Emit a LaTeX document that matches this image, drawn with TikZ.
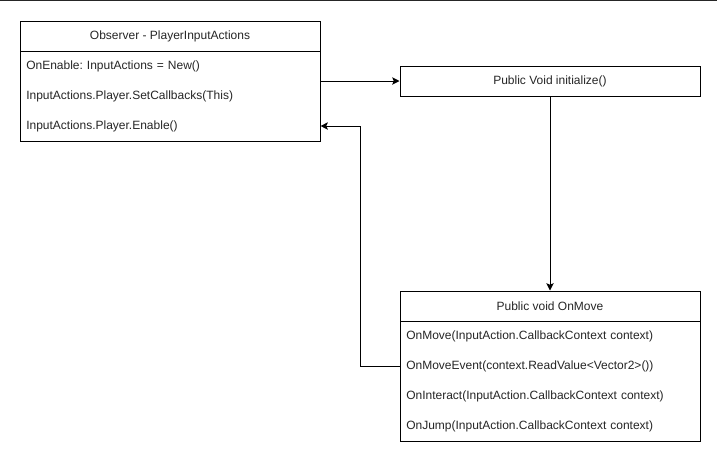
\documentclass[tikz,border=0pt]{standalone}
\usepackage{fontspec}
\setmainfont{Liberation Sans}
\frenchspacing
\usetikzlibrary{arrows.meta,positioning}
\tikzset{
  classframe/.style={
    draw=black,
    line width=0.75pt,
    fill=white,
    minimum width=225pt,
    inner sep=0pt,
    text=black!85,
    font=\fontsize{9pt}{11pt}\selectfont
  },
  classtitle/.style={
    draw=black,
    line width=0.75pt,
    anchor=north,
    minimum width=225pt,
    minimum height=22.5pt,
    inner sep=0pt,
    text=black!85,
    font=\fontsize{9pt}{11pt}\selectfont
  },
  member/.style={
    anchor=west,
    text width=216pt,
    inner xsep=4.5pt,
    inner ysep=0pt,
    minimum height=22.5pt,
    align=left,
    text=black!85,
    font=\fontsize{9pt}{11pt}\selectfont
  },
  flowarrow/.style={
    -{Stealth[length=5.5pt,width=5.5pt,inset=1.2pt]},
    line width=0.75pt
  },
  flowline/.style={
    line width=0.75pt
  },
  edgerule/.style={
    line width=0.9pt,
    draw=black!85
  }
}

\begin{document}
\begin{tikzpicture}[x=0.75pt,y=-0.75pt]

\useasboundingbox (0,0) rectangle (719,458);

% Upper edge of the capture.
\coordinate (edgeleft) at (0,0.6);
\coordinate (edgeright) at (717,0.6);
\draw[edgerule] (edgeleft) -- (edgeright);

% Observer class.
\node[classframe, minimum height=90pt] (observer) at (170,81) {};
\node[classtitle] (observertitle) at (observer.north) {Observer - PlayerInputActions};
\node[member] (obsenable) at (20,66) {OnEnable: InputActions = New()};
\node[member] (obscallbacks) at (20,96) {InputActions.Player.SetCallbacks(This)};
\node[member] (obsplayer) at (20,126) {InputActions.Player.Enable()};

% Initialize method.
\node[classframe, minimum height=22.5pt] (init) at (550,81) {Public Void initialize()};

% OnMove class.
\node[classframe, minimum height=112.5pt] (onmove) at (550,366) {};
\node[classtitle] (onmovetitle) at (onmove.north) {Public void OnMove};
\node[member] (movecall) at (400,336) {OnMove(InputAction.CallbackContext context)};
\node[member] (moveevent) at (400,366) {OnMoveEvent(context.ReadValue<Vector2>())};
\node[member] (moveinteract) at (400,396) {OnInteract(InputAction.CallbackContext context)};
\node[member] (movejump) at (400,426) {OnJump(InputAction.CallbackContext context)};

% Connectors.
\draw[flowarrow] (observer.east) -- (init.west);
\draw[flowarrow] (init.south) -- (onmove.north);
\draw[flowarrow] (moveevent.west) -- ++(-40,0) |- (obsplayer.east);

\end{tikzpicture}
\end{document}
